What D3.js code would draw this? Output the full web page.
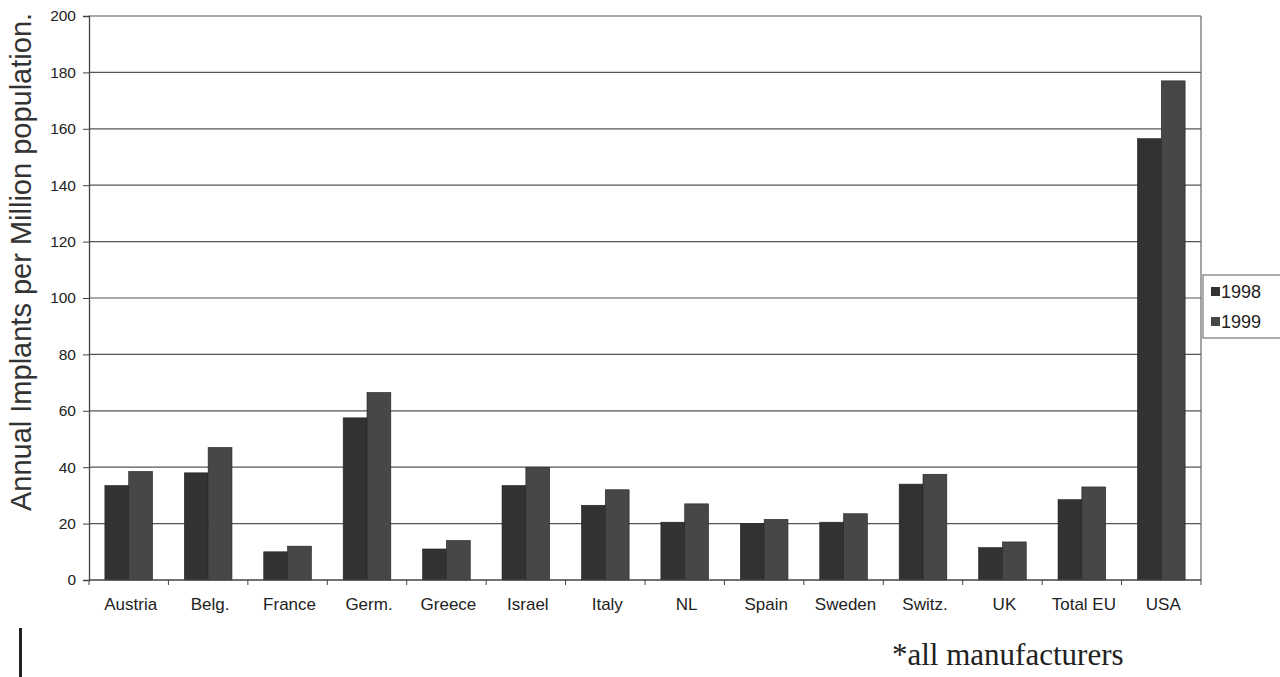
<!DOCTYPE html>
<html>
<head>
<meta charset="utf-8">
<script src="https://cdn.jsdelivr.net/npm/d3@7"></script>
<style>
  html, body { margin: 0; padding: 0; background: #fff; }
  svg { display: block; }
</style>
</head>
<body>
<svg id="chart" width="1280" height="677"></svg>
<script>
// Annual implants per million population, by country
const categories = ["Austria", "Belg.", "France", "Germ.", "Greece", "Israel", "Italy",
                    "NL", "Spain", "Sweden", "Switz.", "UK", "Total EU", "USA"];
const values1998 = [33.5, 38, 10, 57.5, 11, 33.5, 26.5, 20.5, 20, 20.5, 34, 11.5, 28.5, 156.5];
const values1999 = [38.5, 47, 12, 66.5, 14, 40, 32, 27, 21.5, 23.5, 37.5, 13.5, 33, 177];
const seriesNames = ["1998", "1999"];
const seriesColors = ["#323232", "#474747"];
const yTicks = [0, 20, 40, 60, 80, 100, 120, 140, 160, 180, 200];

const sans = "Liberation Sans, Arial, sans-serif";
const svg = d3.select("#chart");
const margin = { left: 89, right: 1201, top: 16, bottom: 580 };

const x = d3.scaleBand().domain(categories).range([margin.left, margin.right]).paddingInner(0.4).paddingOuter(0.2);
const x0 = d3.scaleBand().domain(categories).range([margin.left, margin.right]).padding(0);
const xs = d3.scaleBand().domain(seriesNames).range([0, x.bandwidth()]);
const y = d3.scaleLinear().domain([0, 200]).range([margin.bottom, margin.top]);

// horizontal gridlines
svg.append("g").selectAll("line").data(yTicks.slice(1)).join("line")
  .attr("x1", margin.left).attr("x2", margin.right)
  .attr("y1", d => y(d)).attr("y2", d => y(d))
  .attr("stroke", "#555").attr("stroke-width", 1.2);

// right border of the plot area
svg.append("line")
  .attr("x1", margin.right).attr("x2", margin.right)
  .attr("y1", margin.top).attr("y2", margin.bottom)
  .attr("stroke", "#666").attr("stroke-width", 1.2);

// bars
const rows = categories.map((c, i) => ({ c, vals: [values1998[i], values1999[i]] }));
const groups = svg.append("g").selectAll("g").data(rows).join("g")
  .attr("transform", d => `translate(${x(d.c)},0)`);
groups.selectAll("rect").data(d => d.vals.map((v, k) => ({ v, k }))).join("rect")
  .attr("x", d => xs(seriesNames[d.k]))
  .attr("width", xs.bandwidth())
  .attr("y", d => y(d.v))
  .attr("height", d => y(0) - y(d.v))
  .attr("fill", d => seriesColors[d.k])
  .attr("stroke", "#222").attr("stroke-width", 0.6);

// y axis
const yAxis = d3.axisLeft(y).tickValues(yTicks).tickSize(6).tickPadding(7);
const gy = svg.append("g").attr("transform", `translate(${margin.left},0)`).call(yAxis);
gy.select(".domain").attr("stroke", "#444").attr("stroke-width", 1.3);
gy.selectAll(".tick line").attr("stroke", "#444");
gy.selectAll("text").attr("font-family", sans)
  .attr("font-size", 15.5).attr("fill", "#222");

// x axis with ticks at category boundaries
const gx = svg.append("g").attr("transform", `translate(0,${margin.bottom})`);
gx.append("line").attr("x1", margin.left).attr("x2", margin.right)
  .attr("stroke", "#444").attr("stroke-width", 1.3);
gx.selectAll("line.tk").data(categories.concat(["end"])).join("line").attr("class", "tk")
  .attr("x1", (d, i) => i < categories.length ? x0(d) : margin.right)
  .attr("x2", (d, i) => i < categories.length ? x0(d) : margin.right)
  .attr("y1", 0).attr("y2", 5).attr("stroke", "#444");
gx.selectAll("text").data(categories).join("text")
  .attr("x", d => x0(d) + x0.bandwidth() / 2 + 2)
  .attr("y", 30)
  .attr("text-anchor", "middle")
  .attr("font-family", sans)
  .attr("font-size", 17).attr("fill", "#222")
  .text(d => d);

// y axis title
svg.append("text")
  .attr("transform", "translate(31,262) rotate(-90)")
  .attr("text-anchor", "middle")
  .attr("font-family", sans)
  .attr("font-size", 29).attr("fill", "#333")
  .text("Annual Implants per Million population.");

// legend
const lg = svg.append("g").attr("transform", "translate(1203,275)");
lg.append("rect").attr("x", 0).attr("y", 0).attr("width", 80).attr("height", 63)
  .attr("fill", "#fff").attr("stroke", "#777").attr("stroke-width", 1.2);
seriesNames.forEach((s, i) => {
  lg.append("rect").attr("x", 8).attr("y", 12 + i * 30).attr("width", 9).attr("height", 9)
    .attr("fill", seriesColors[i]);
  lg.append("text").attr("x", 18).attr("y", 23 + i * 30)
    .attr("font-family", sans)
    .attr("font-size", 18).attr("fill", "#222").text(s);
});

// footnote
svg.append("text").attr("x", 892).attr("y", 665)
  .attr("font-family", "Liberation Serif, Times New Roman, serif")
  .attr("font-size", 31).attr("fill", "#222")
  .text("*all manufacturers");

// side rule at the lower left
svg.append("rect").attr("x", 19).attr("y", 628).attr("width", 3).attr("height", 49).attr("fill", "#222");
</script>
</body>
</html>
